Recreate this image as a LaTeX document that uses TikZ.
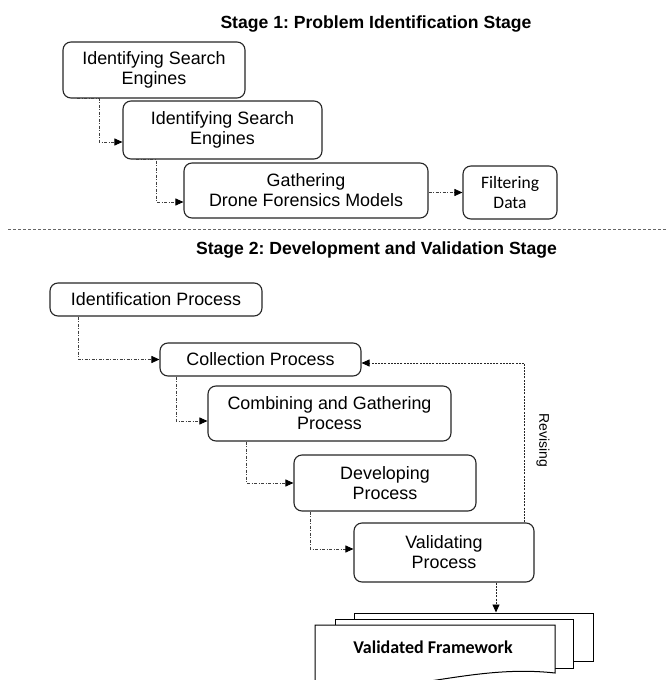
\documentclass[tikz,border=0pt]{standalone}
\usepackage{fontspec}
\setmainfont{Liberation Sans}
\newfontfamily\calibri{Carlito}
\usetikzlibrary{arrows.meta}
\frenchspacing
\tikzset{
  procbox/.style={draw=black!85, line width=1.1pt, rounded corners=8pt, align=center, inner sep=0pt,
    font=\fontsize{17.9}{20}\selectfont, fill=white},
  cbox/.style={procbox, font=\calibri\fontsize{17.5}{20}\selectfont},
  tip/.style={-{Triangle[length=8pt,width=7pt,color=black,fill=black]}},
  conn/.style={draw=black!75, line width=0.9pt, dash pattern=on 3pt off 1.5pt on 1pt off 1.5pt, tip},
  revconn/.style={draw=black!85, line width=0.9pt, dash pattern=on 2pt off 1.2pt, tip},
  sep/.style={draw=black!60, line width=0.8pt, dash pattern=on 3pt off 2pt},
  stagetitle/.style={font=\bfseries\fontsize{17.6}{20}\selectfont, inner sep=0pt},
  sheet/.style={draw=black, line width=1pt, fill=white, inner sep=0pt},
}
\begin{document}
\begin{tikzpicture}[x=1pt,y=-1pt]
\useasboundingbox (0,0) rectangle (668,680);
% Stage 1
\node[stagetitle] (t1) at (376,24) {Stage 1: Problem Identification Stage};
\node[procbox, minimum width=182pt, minimum height=56pt] (A1) at (154,70) {Identifying Search\\Engines};
\node[procbox, minimum width=199pt, minimum height=58pt] (A2) at (222.5,130) {Identifying Search\\Engines};
\node[procbox, minimum width=244pt, minimum height=55pt] (A3) at (306,190.5) {Gathering\\Drone Forensics Models};
\node[cbox, minimum width=94pt, minimum height=53pt] (A4) at (510,192.5) {Filtering\\Data};
\draw[conn] ([xshift=15pt]A1.south west) -- ([xshift=37pt]A1.south west) |- ([yshift=-12pt]A2.west);
\draw[conn] ([xshift=14pt]A2.south west) -- ([xshift=34pt]A2.south west) |- ([yshift=-11.5pt]A3.west);
\draw[conn] (A3.east |- A4.west) -- (A4.west);
% separator
\coordinate (sepL) at (8,229);
\coordinate (sepR) at (668,229);
\draw[sep] (sepL) -- (sepR);
% Stage 2
\node[stagetitle] (t2) at (376.5,250) {Stage 2: Development and Validation Stage};
\node[procbox, minimum width=212pt, minimum height=33pt] (B1) at (156,299.5) {Identification Process};
\node[procbox, minimum width=201pt, minimum height=33pt] (B2) at (260.5,359.5) {Collection Process};
\node[procbox, minimum width=243pt, minimum height=55pt] (B3) at (329.5,413.5) {Combining and Gathering\\Process};
\node[procbox, minimum width=182pt, minimum height=56pt] (B4) at (385,483) {Developing\\Process};
\node[procbox, minimum width=180pt, minimum height=59pt] (B5) at (444,552.5) {Validating\\Process};
\draw[conn] ([xshift=29pt]B1.south west) |- (B2.west);
\draw[conn] ([xshift=17pt]B2.south west) |- ([yshift=-7.5pt]B3.west);
\draw[conn] ([xshift=39pt]B3.south west) |- (B4.west);
\draw[conn] ([xshift=17pt]B4.south west) |- ([yshift=3.5pt]B5.west);
% revising loop
\draw[revconn] ([xshift=-10pt]B5.north east) |- ([yshift=-3.5pt]B2.east);
\node[rotate=-90, font=\fontsize{14}{16}\selectfont, inner sep=0pt] (rev) at (543,440) {Revising};
% validated framework stack
\node[sheet, minimum width=239pt, minimum height=48pt] (FW3) at (473.5,637) {};
\node[sheet, minimum width=238pt, minimum height=49pt] (FW2) at (454,643.5) {};
\draw[draw=black, line width=1pt, fill=white] (315,625) -- (555,625) -- (555,673)
  .. controls (510,668) and (470,675) .. (430,681) .. controls (390,687) and (350,690) .. (315,688) -- cycle;
\node[font=\calibri\bfseries\fontsize{18}{20}\selectfont, inner sep=0pt] (FW) at (433,647) {Validated Framework};
\draw[revconn] ([xshift=52pt]B5.south) -- ([xshift=52pt]B5.south |- FW3.north);
\end{tikzpicture}
\end{document}
